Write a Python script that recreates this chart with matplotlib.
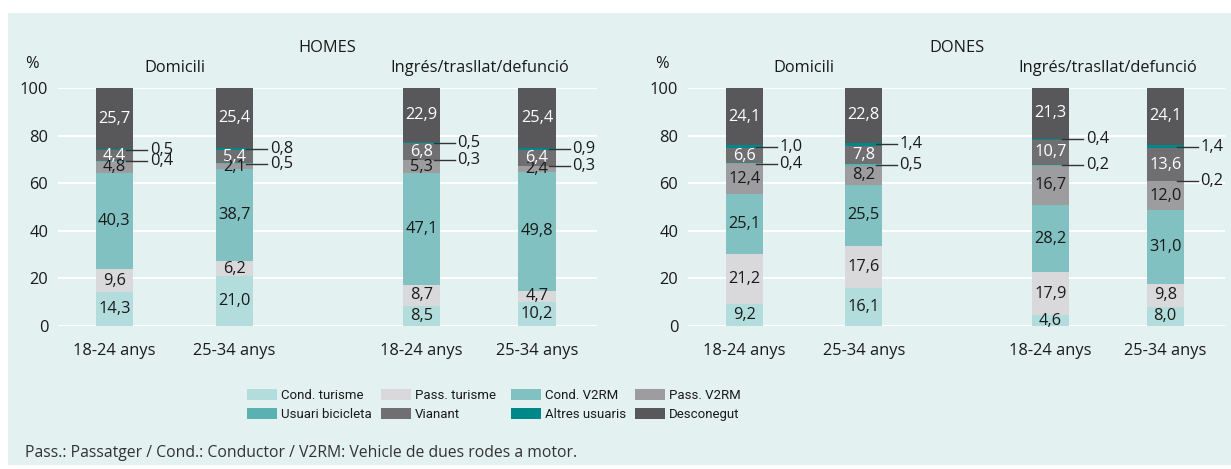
import matplotlib.pyplot as plt
from matplotlib.patches import Rectangle, Patch

plt.rcParams['font.family'] = ['Open Sans', 'DejaVu Sans']

# series, bottom to top
series = ['Cond. turisme', 'Pass. turisme', 'Cond. V2RM', 'Pass. V2RM',
          'Usuari bicicleta', 'Vianant', 'Altres usuaris', 'Desconegut']
colors = ['#b3dcdc', '#d9d9db', '#81c1c2', '#9d9d9f',
          '#5ab1b2', '#6f6f71', '#00878a', '#58585a']
white_text = ['Vianant', 'Desconegut']

ages = ['18-24 anys', '25-34 anys', '18-24 anys', '25-34 anys']
groups = ['Domicili', 'Ingrés/trasllat/defunció']

# one list per bar: Domicili 18-24, Domicili 25-34, Ingrés 18-24, Ingrés 25-34
homes = [
    [14.3, 9.6, 40.3, 4.8, 0.4, 4.4, 0.5, 25.7],
    [21.0, 6.2, 38.7, 2.1, 0.5, 5.4, 0.8, 25.4],
    [8.5, 8.7, 47.1, 5.3, 0.3, 6.8, 0.5, 22.9],
    [10.2, 4.7, 49.8, 2.4, 0.3, 6.4, 0.9, 25.4],
]
dones = [
    [9.2, 21.2, 25.1, 12.4, 0.4, 6.6, 1.0, 24.1],
    [16.1, 17.6, 25.5, 8.2, 0.5, 7.8, 1.4, 22.8],
    [4.6, 17.9, 28.2, 16.7, 0.2, 10.7, 0.4, 21.3],
    [8.0, 9.8, 31.0, 12.0, 0.2, 13.6, 1.4, 24.1],
]

xpos = [0, 1, 2.56, 3.52]
bw = 0.31
bg = '#e3f1f0'
txt = '#1a1a1a'
fs = 11.8


def fmt(v):
    return f'{v:.1f}'.replace('.', ',')


def draw_panel(ax, data, title):
    ax.set_facecolor(bg)
    for x, vals in zip(xpos, data):
        bottom = 0
        for name, v, c in zip(series, vals, colors):
            ax.bar(x, v, bw, bottom=bottom, color=c, linewidth=0, zorder=3)
            mid = bottom + v / 2
            if v < 2:
                ax.plot([x + 0.1, x + bw / 2 + 0.12], [mid, mid], color='#333333',
                        lw=1, zorder=4, clip_on=False)
                ax.text(x + bw / 2 + 0.14, mid, fmt(v), ha='left', va='center',
                        fontsize=fs, color=txt, clip_on=False)
            else:
                col = 'white' if name in white_text else txt
                ax.text(x, mid, fmt(v), ha='center', va='center', fontsize=fs,
                        color=col, zorder=5)
            bottom += v
    ax.set_ylim(0, 100)
    ax.set_xlim(-0.47, 4.02)
    ax.set_yticks(range(0, 101, 20))
    ax.yaxis.grid(True, color='white', lw=1.5, zorder=0)
    ax.set_xticks(xpos)
    ax.set_xticklabels(ages)
    ax.tick_params(length=0, labelsize=fs, colors=txt)
    ax.tick_params(axis='y', pad=7)
    ax.tick_params(axis='x', pad=12)
    for s in ax.spines.values():
        s.set_visible(False)
    ax.text(0.5, 1.17, title, transform=ax.transAxes, ha='center', va='center',
            fontsize=fs, color=txt)
    ax.text((xpos[0] + xpos[1]) / 2, 108.5, groups[0], ha='center', va='center',
            fontsize=fs, color=txt)
    ax.text((xpos[2] + xpos[3]) / 2, 108.5, groups[1], ha='center', va='center',
            fontsize=fs, color=txt)
    ax.text(-0.035, 1.1, '%', transform=ax.transAxes, ha='right', va='center',
            fontsize=fs, color=txt)


fig = plt.figure(figsize=(12.31, 4.69), dpi=100)
fig.patch.set_facecolor('white')
fig.patches.append(Rectangle((8 / 1231, 4 / 469), 1 - 8 / 1231, 452 / 469,
                             transform=fig.transFigure, facecolor=bg,
                             edgecolor='none', zorder=-1))

ax1 = fig.add_axes([58 / 1231, 143 / 469, 539 / 1231, 238 / 469])
ax2 = fig.add_axes([688 / 1231, 143 / 469, 537 / 1231, 238 / 469])
draw_panel(ax1, homes, 'HOMES')
draw_panel(ax2, dones, 'DONES')

# legend: four columns of two rows, placed one column at a time
handles = [Patch(facecolor=c, edgecolor='none') for c in colors]
col_x = [247, 381, 511, 635]
for j, x in enumerate(col_x):
    idx = [j, j + 4]
    fig.legend([handles[i] for i in idx], [series[i] for i in idx],
               loc='upper left', bbox_to_anchor=(x / 1231, 80 / 469), frameon=False,
               handlelength=2.3, handleheight=0.9, handletextpad=0.25,
               labelspacing=0.45, borderpad=0, borderaxespad=0,
               prop={'family': ['Roboto', 'Open Sans'], 'size': 9.5},
               labelcolor=txt)

fig.text(25 / 1231, 16 / 469, 'Pass.: Passatger / Cond.: Conductor / V2RM: Vehicle de dues rodes a motor.',
         ha='left', va='center', fontsize=11.3, color='#333333')

fig.savefig('out.png', dpi=100, facecolor=fig.get_facecolor())
